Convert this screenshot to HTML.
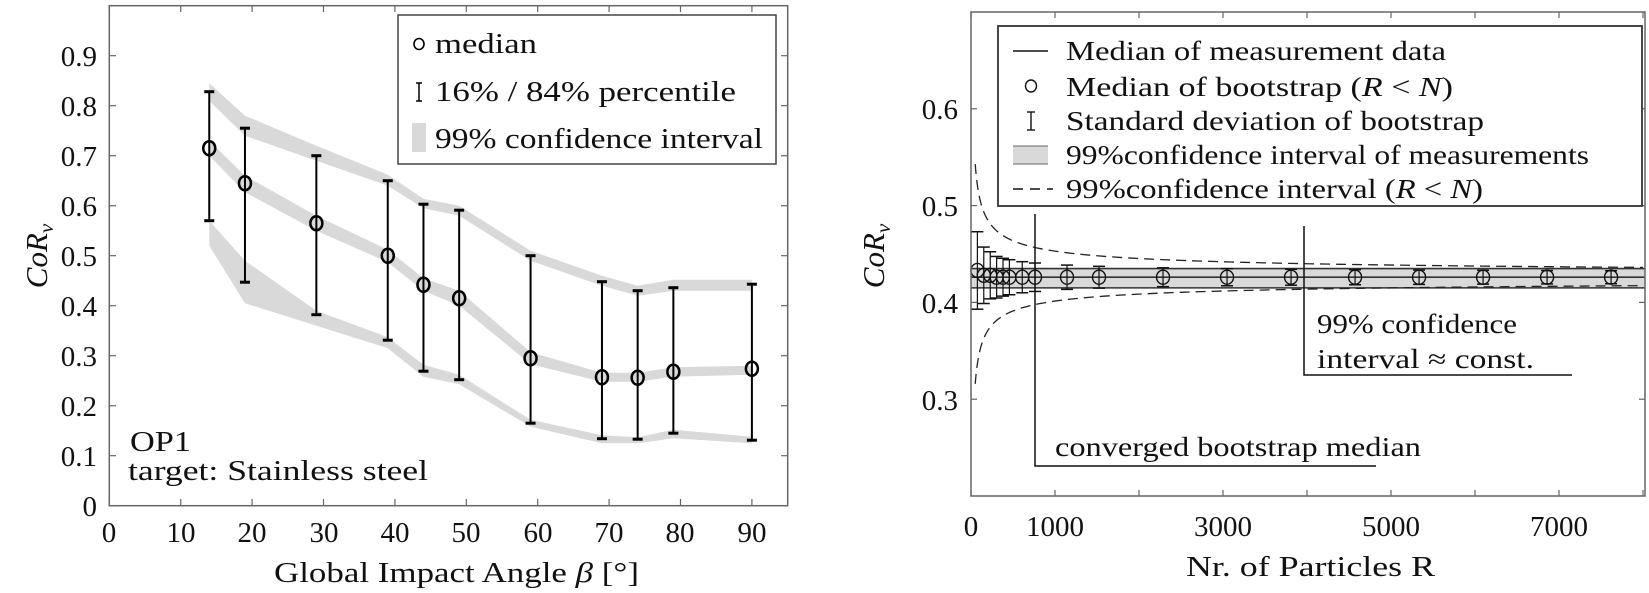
<!DOCTYPE html>
<html><head><meta charset="utf-8"><style>
html,body{margin:0;padding:0;background:#fff;}
svg{display:block;font-family:"Liberation Serif",serif;}
</style></head><body>
<svg id="s" width="1649" height="593" viewBox="0 0 1649 593" xmlns="http://www.w3.org/2000/svg">
<g id="L"></g>
<g id="R"></g>
<g fill="#111" font-size="29">
<g text-anchor="end">
<text x="97" y="516">0</text><text x="97" y="466">0.1</text><text x="97" y="416">0.2</text><text x="97" y="366">0.3</text><text x="97" y="316">0.4</text><text x="97" y="266">0.5</text><text x="97" y="216">0.6</text><text x="97" y="166">0.7</text><text x="97" y="116">0.8</text><text x="97" y="66">0.9</text>
</g>
<g text-anchor="middle">
<text x="109" y="542">0</text><text x="181" y="542">10</text><text x="252" y="542">20</text><text x="324" y="542">30</text><text x="395" y="542">40</text><text x="466" y="542">50</text><text x="538" y="542">60</text><text x="609" y="542">70</text><text x="680" y="542">80</text><text x="752" y="542">90</text>
</g>
<text x="274" y="582" font-size="28" textLength="365" lengthAdjust="spacingAndGlyphs">Global Impact Angle <tspan font-style="italic">β</tspan> [°]</text>
<text transform="translate(47,256) rotate(-90)" text-anchor="middle" font-style="italic" font-size="31">CoR<tspan font-size="21" dy="6">v</tspan></text>
<text x="130" y="451" font-size="28" textLength="61" lengthAdjust="spacingAndGlyphs">OP1</text>
<text x="128" y="480" font-size="28" textLength="300" lengthAdjust="spacingAndGlyphs">target: Stainless steel</text>
<text x="435" y="53" font-size="28" textLength="102" lengthAdjust="spacingAndGlyphs">median</text>
<text x="435" y="101" font-size="28" textLength="301" lengthAdjust="spacingAndGlyphs">16% / 84% percentile</text>
<text x="435" y="148" font-size="28" textLength="328" lengthAdjust="spacingAndGlyphs">99% confidence interval</text>
<g text-anchor="end">
<text x="958" y="119">0.6</text><text x="958" y="216">0.5</text><text x="958" y="313">0.4</text><text x="958" y="410">0.3</text>
</g>
<g text-anchor="middle">
<text x="971" y="536">0</text><text x="1055" y="536">1000</text><text x="1223" y="536">3000</text><text x="1391" y="536">5000</text><text x="1559" y="536">7000</text>
</g>
<text x="1186" y="576" font-size="28" textLength="249" lengthAdjust="spacingAndGlyphs">Nr. of Particles R</text>
<text transform="translate(884,256) rotate(-90)" text-anchor="middle" font-style="italic" font-size="31">CoR<tspan font-size="21" dy="6">v</tspan></text>
<g font-size="27">
<text x="1066" y="60" textLength="380" lengthAdjust="spacingAndGlyphs">Median of measurement data</text>
<text x="1066" y="96" textLength="387" lengthAdjust="spacingAndGlyphs">Median of bootstrap (<tspan font-style="italic">R</tspan> &lt; <tspan font-style="italic">N</tspan>)</text>
<text x="1066" y="130" textLength="418" lengthAdjust="spacingAndGlyphs">Standard deviation of bootstrap</text>
<text x="1066" y="164" textLength="523" lengthAdjust="spacingAndGlyphs">99%confidence interval of measurements</text>
<text x="1066" y="198" textLength="417" lengthAdjust="spacingAndGlyphs">99%confidence interval (<tspan font-style="italic">R</tspan> &lt; <tspan font-style="italic">N</tspan>)</text>
<text x="1055" y="456" textLength="366" lengthAdjust="spacingAndGlyphs">converged bootstrap median</text>
<text x="1317" y="333" textLength="200" lengthAdjust="spacingAndGlyphs">99% confidence</text>
<text x="1317" y="368" textLength="217" lengthAdjust="spacingAndGlyphs">interval ≈ const.</text>
</g>
</g>
</svg>
<script>
var NS="http://www.w3.org/2000/svg";
function el(p,t,a){var e=document.createElementNS(NS,t);for(var k in a)e.setAttribute(k,a[k]);p.appendChild(e);return e;}
var L=document.getElementById("L"),R=document.getElementById("R");
var X=function(v){return 109.3+7.14*v},Y=function(c){return 505.7-500*c};
var xs=[14,19,29,39,44,49,59,69,74,79,90];
var med=[0.715,0.645,0.565,0.50,0.442,0.415,0.295,0.257,0.256,0.268,0.274];
var lo=[0.57,0.447,0.382,0.331,0.269,0.252,0.165,0.134,0.133,0.145,0.131];
var hi=[0.828,0.755,0.70,0.65,0.603,0.591,0.50,0.448,0.43,0.436,0.443];
var bands=[
 [[0.81,0.845],[0.74,0.78],[0.69,0.72],[0.64,0.662],[0.595,0.614],[0.58,0.60],[0.49,0.51],[0.44,0.46],[0.42,0.44],[0.43,0.452],[0.43,0.452]],
 [[0.70,0.73],[0.627,0.66],[0.55,0.58],[0.487,0.512],[0.43,0.455],[0.40,0.43],[0.283,0.307],[0.248,0.266],[0.248,0.266],[0.258,0.277],[0.262,0.28]],
 [[0.52,0.57],[0.405,0.49],[0.36,0.39],[0.315,0.337],[0.258,0.282],[0.243,0.262],[0.158,0.172],[0.125,0.141],[0.125,0.137],[0.135,0.152],[0.125,0.138]]];
bands.forEach(function(b){var p=[];for(var i=0;i<xs.length;i++)p.push(X(xs[i])+","+Y(b[i][1]));for(var i=xs.length-1;i>=0;i--)p.push(X(xs[i])+","+Y(b[i][0]));el(L,"polygon",{points:p.join(" "),fill:"#d9d9d9"});});
el(L,"rect",{x:109.3,y:5.7,width:678.4,height:500,fill:"none",stroke:"#666","stroke-width":1.5});
for(var v=0;v<=90;v+=10){el(L,"line",{x1:X(v),x2:X(v),y1:505.7,y2:499,stroke:"#666","stroke-width":1.2});el(L,"line",{x1:X(v),x2:X(v),y1:5.7,y2:12,stroke:"#666","stroke-width":1.2});}
for(var c=0;c<=0.91;c+=0.1){el(L,"line",{x1:109.3,x2:116,y1:Y(c),y2:Y(c),stroke:"#666","stroke-width":1.2});el(L,"line",{x1:787.7,x2:781,y1:Y(c),y2:Y(c),stroke:"#666","stroke-width":1.2});}
for(var i=0;i<xs.length;i++){var x=X(xs[i]);
 el(L,"line",{x1:x,x2:x,y1:Y(lo[i]),y2:Y(hi[i]),stroke:"#000","stroke-width":2});
 el(L,"line",{x1:x-5,x2:x+5,y1:Y(lo[i]),y2:Y(lo[i]),stroke:"#000","stroke-width":3});
 el(L,"line",{x1:x-5,x2:x+5,y1:Y(hi[i]),y2:Y(hi[i]),stroke:"#000","stroke-width":3});
 el(L,"ellipse",{cx:x,cy:Y(med[i]),rx:6,ry:7,fill:"none",stroke:"#000","stroke-width":2.5});}
el(L,"rect",{x:398,y:15,width:378,height:149,fill:"#fff",stroke:"#444","stroke-width":1.5});
el(L,"ellipse",{cx:419,cy:44,rx:5,ry:5.5,fill:"none",stroke:"#000","stroke-width":1.6});
el(L,"line",{x1:419,x2:419,y1:83,y2:101,stroke:"#000","stroke-width":1.5});
el(L,"line",{x1:416,x2:422,y1:83,y2:83,stroke:"#000","stroke-width":1.5});
el(L,"line",{x1:416,x2:422,y1:101,y2:101,stroke:"#000","stroke-width":1.5});
el(L,"rect",{x:412,y:123,width:14,height:29,fill:"#d9d9d9"});
var XR=function(r){return 971+0.084*r},YR=function(v){return 496-968*(v-0.2)};
el(R,"rect",{x:971,y:YR(0.435),width:674,height:YR(0.415)-YR(0.435),fill:"#d9d9d9"});
[0.415,0.426,0.435].forEach(function(v){el(R,"line",{x1:971,x2:1645,y1:YR(v),y2:YR(v),stroke:"#333","stroke-width":1.6});});
var up=[],dn=[];for(var r=50;r<=8000;r+=(r<500?10:100)){var d=0.82/Math.sqrt(r);up.push(XR(r)+","+YR(0.426+d+0.001));dn.push(XR(r)+","+YR(0.426-d*0.95));}
el(R,"polyline",{points:up.join(" "),fill:"none",stroke:"#222","stroke-width":1.3,"stroke-dasharray":"10,6"});
el(R,"polyline",{points:dn.join(" "),fill:"none",stroke:"#222","stroke-width":1.3,"stroke-dasharray":"10,6"});
var rs=[76,152,229,305,381,457,610,762,1143,1524,2286,3048,3810,4572,5334,6096,6858,7620];
rs.forEach(function(r,i){var x=XR(r),m=i==0?0.433:(i<3?0.428:0.426),h=0.037*Math.sqrt(76/r)+0.003;
 el(R,"line",{x1:x,x2:x,y1:YR(m-h),y2:YR(m+h),stroke:"#111","stroke-width":1.2});
 el(R,"line",{x1:x-6,x2:x+6,y1:YR(m-h),y2:YR(m-h),stroke:"#111","stroke-width":1.5});
 el(R,"line",{x1:x-6,x2:x+6,y1:YR(m+h),y2:YR(m+h),stroke:"#111","stroke-width":1.5});
 el(R,"ellipse",{cx:x,cy:YR(m),rx:6.5,ry:7,fill:"none",stroke:"#111","stroke-width":1.4});});
el(R,"rect",{x:971,y:12,width:674,height:484,fill:"none",stroke:"#666","stroke-width":1.5});
for(var r=0;r<=8000;r+=1000){el(R,"line",{x1:XR(r),x2:XR(r),y1:496,y2:490,stroke:"#666","stroke-width":1.2});el(R,"line",{x1:XR(r),x2:XR(r),y1:12,y2:18,stroke:"#666","stroke-width":1.2});}
[0.3,0.4,0.5,0.6].forEach(function(v){el(R,"line",{x1:971,x2:977,y1:YR(v),y2:YR(v),stroke:"#666","stroke-width":1.2});el(R,"line",{x1:1645,x2:1639,y1:YR(v),y2:YR(v),stroke:"#666","stroke-width":1.2});});
el(R,"polyline",{points:"1035,214 1035,466 1376,466",fill:"none",stroke:"#111","stroke-width":1.5});
el(R,"polyline",{points:"1304,226 1304,375 1572,375",fill:"none",stroke:"#111","stroke-width":1.5});
el(R,"rect",{x:998,y:26,width:644,height:180,fill:"#fff",stroke:"#333","stroke-width":1.8});
el(R,"line",{x1:1013,x2:1048,y1:51,y2:51,stroke:"#111","stroke-width":1.6});
el(R,"ellipse",{cx:1031,cy:86,rx:5.5,ry:6,fill:"none",stroke:"#111","stroke-width":1.4});
el(R,"line",{x1:1031,x2:1031,y1:112,y2:130,stroke:"#111","stroke-width":1.4});
el(R,"line",{x1:1027,x2:1035,y1:112,y2:112,stroke:"#111","stroke-width":1.4});
el(R,"line",{x1:1027,x2:1035,y1:130,y2:130,stroke:"#111","stroke-width":1.4});
el(R,"rect",{x:1013,y:146,width:35,height:18,fill:"#d9d9d9"});
el(R,"line",{x1:1013,x2:1048,y1:146,y2:146,stroke:"#666","stroke-width":1});
el(R,"line",{x1:1013,x2:1048,y1:164,y2:164,stroke:"#666","stroke-width":1});
el(R,"line",{x1:1013,x2:1053,y1:189,y2:189,stroke:"#111","stroke-width":1.4,"stroke-dasharray":"10,7"});
</script>
</body></html>
